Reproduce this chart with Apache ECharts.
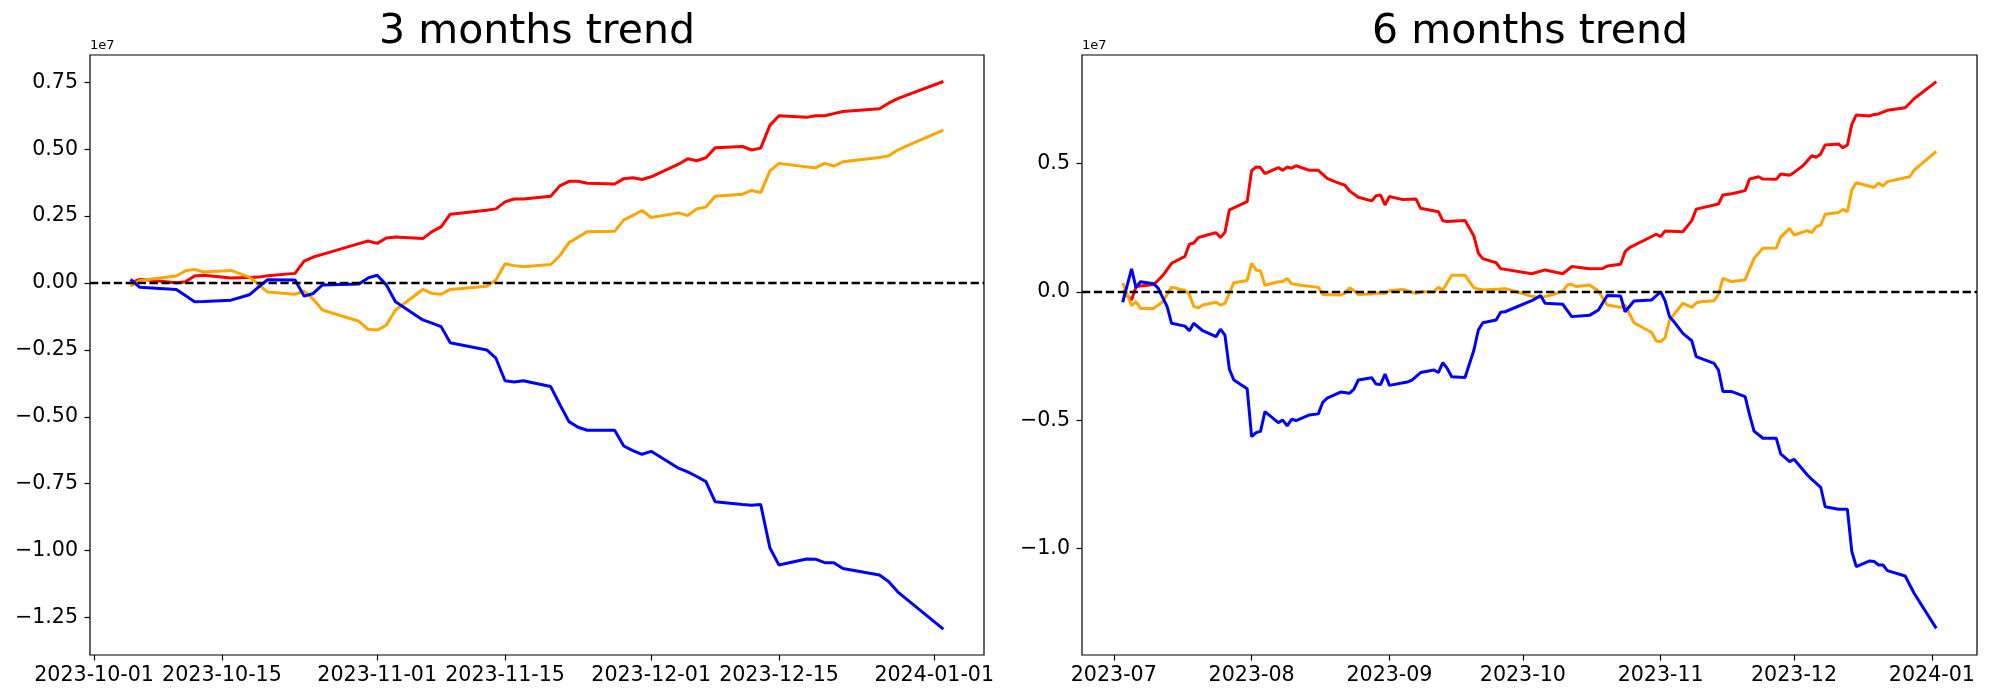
<!DOCTYPE html>
<html>
<head>
<meta charset="utf-8">
<script src="https://cdn.jsdelivr.net/npm/echarts@6/dist/echarts.min.js"></script>
<style>
html,body{margin:0;padding:0;background:#fff;}
#c{width:2000px;height:700px;}
</style>
</head>
<body>
<div id="c"></div>
<script>
// ---------- data (values in millions, days counted from the base date) ----------
const threeBase = '2023-10-01';
const threeDays = [4,5,9,10,11,12,15,17,18,19,22,23,24,25,29,30,31,32,33,36,37,38,39,43,44,45,46,47,50,51,52,53,54,57,58,59,60,61,64,65,66,67,68,71,72,73,74,75,78,79,80,81,82,86,87,88,89,93];
const threeRed = [0.0,0.14,0.01,0.05,0.26,0.29,0.19,0.21,0.22,0.27,0.36,0.82,0.97,1.07,1.47,1.57,1.48,1.68,1.72,1.66,1.92,2.10,2.57,2.72,2.77,3.03,3.14,3.14,3.24,3.63,3.80,3.80,3.73,3.70,3.90,3.93,3.87,3.97,4.44,4.64,4.57,4.68,5.05,5.10,4.97,5.04,5.89,6.25,6.19,6.25,6.25,6.33,6.41,6.51,6.72,6.89,7.02,7.53];
const threeOrange = [-0.12,0.09,0.26,0.46,0.51,0.41,0.47,0.22,-0.05,-0.34,-0.42,-0.30,-0.61,-1.01,-1.43,-1.73,-1.76,-1.58,-1.01,-0.24,-0.39,-0.42,-0.24,-0.12,0.11,0.72,0.65,0.61,0.69,1.02,1.51,1.71,1.92,1.93,2.36,2.53,2.71,2.45,2.62,2.52,2.77,2.84,3.24,3.32,3.46,3.38,4.19,4.47,4.34,4.30,4.47,4.37,4.53,4.69,4.75,4.97,5.12,5.71];
const threeBlue = [0.14,-0.16,-0.24,-0.47,-0.70,-0.69,-0.64,-0.44,-0.15,0.12,0.11,-0.49,-0.39,-0.07,-0.04,0.19,0.29,-0.07,-0.70,-1.38,-1.50,-1.63,-2.23,-2.50,-2.81,-3.65,-3.70,-3.65,-3.87,-4.54,-5.18,-5.39,-5.50,-5.50,-6.09,-6.26,-6.40,-6.29,-6.92,-7.06,-7.23,-7.42,-8.17,-8.28,-8.30,-8.28,-9.89,-10.54,-10.31,-10.32,-10.45,-10.45,-10.67,-10.91,-11.15,-11.54,-11.82,-12.93];

const sixBase = '2023-07-01';
const sixRedDays = [2,4,5,9,11,13,16,17,18,19,21,23,24,25,26,30,31,32,33,34,37,38,39,40,41,44,46,48,50,52,53,55,58,59,60,61,62,65,68,69,73,74,75,79,81,82,83,86,87,94,97,101,103,107,110,111,114,115,116,122,123,124,128,130,131,136,137,139,142,143,145,146,149,150,152,153,155,157,158,159,160,163,164,165,166,167,170,171,172,174,178,180,185];
const sixRed = [0.04,-0.31,0.21,0.29,0.64,1.12,1.39,1.86,1.91,2.12,2.22,2.31,2.12,2.33,3.20,3.52,4.73,4.87,4.85,4.61,4.85,4.74,4.87,4.82,4.92,4.74,4.74,4.43,4.28,4.16,3.94,3.69,3.55,3.75,3.78,3.39,3.72,3.60,3.62,3.26,3.13,2.78,2.75,2.79,2.18,1.51,1.30,1.14,0.91,0.71,0.86,0.71,0.99,0.91,0.92,1.01,1.08,1.57,1.73,2.25,2.16,2.38,2.35,2.78,3.23,3.43,3.78,3.83,3.95,4.40,4.49,4.40,4.39,4.60,4.55,4.66,4.92,5.31,5.25,5.38,5.73,5.77,5.62,5.73,6.53,6.90,6.86,6.92,6.94,7.08,7.18,7.53,8.20];
const sixOrangeDays = [2,4,5,6,9,11,13,16,17,18,19,20,23,24,25,27,30,31,32,33,34,37,38,39,40,42,46,47,51,52,53,54,55,58,59,61,62,65,68,69,72,73,74,76,79,81,83,88,90,94,96,99,101,102,103,104,107,109,111,114,115,117,121,122,123,124,125,128,130,131,132,135,136,137,139,142,144,146,149,150,152,153,156,157,158,159,160,163,164,165,166,167,171,172,173,174,179,180,185];
const sixOrange = [0.35,-0.53,-0.38,-0.64,-0.64,-0.38,0.19,0.06,-0.09,-0.57,-0.62,-0.51,-0.40,-0.51,-0.44,0.36,0.45,1.12,0.86,0.82,0.26,0.40,0.40,0.53,0.32,0.26,0.18,-0.10,-0.12,-0.04,0.16,0.06,-0.10,-0.08,-0.04,-0.06,0.05,0.10,-0.06,0.01,0.01,0.18,0.08,0.65,0.65,0.16,0.08,0.13,0.04,-0.17,-0.22,-0.09,0.04,0.27,0.30,0.21,0.27,0.04,-0.51,-0.60,-0.51,-1.20,-1.58,-1.91,-1.94,-1.78,-1.09,-0.44,-0.60,-0.43,-0.38,-0.34,-0.09,0.53,0.40,0.48,1.31,1.70,1.71,2.14,2.48,2.22,2.39,2.31,2.55,2.61,3.03,3.10,3.22,3.13,3.98,4.26,4.07,4.25,4.13,4.30,4.49,4.75,5.48];
const sixBlueDays = [2,4,5,6,9,10,12,13,16,17,18,20,23,24,25,26,27,30,31,32,33,34,37,38,39,40,41,44,46,47,48,51,53,54,55,58,59,60,61,62,66,67,69,72,73,74,75,76,79,81,82,83,86,87,88,94,96,97,101,103,107,109,111,114,115,117,121,123,124,125,126,128,130,131,135,136,137,139,142,143,144,146,149,150,152,153,156,157,159,160,163,165,166,167,170,171,172,173,174,178,180,185];
const sixBlue = [-0.40,0.90,0.17,0.40,0.32,0.14,-0.57,-1.22,-1.33,-1.51,-1.22,-1.51,-1.74,-1.45,-1.68,-3.01,-3.43,-3.77,-5.64,-5.48,-5.43,-4.66,-5.09,-4.99,-5.22,-4.96,-5.01,-4.79,-4.75,-4.30,-4.14,-3.90,-3.95,-3.79,-3.43,-3.34,-3.59,-3.61,-3.20,-3.64,-3.51,-3.44,-3.14,-3.04,-3.14,-2.75,-2.98,-3.30,-3.33,-2.26,-1.48,-1.20,-1.09,-0.79,-0.77,-0.34,-0.14,-0.44,-0.48,-0.96,-0.91,-0.70,-0.14,-0.16,-0.77,-0.35,-0.31,0.01,-0.35,-0.96,-1.16,-1.61,-1.90,-2.52,-2.78,-3.04,-3.88,-3.88,-4.08,-4.79,-5.42,-5.70,-5.70,-6.31,-6.61,-6.52,-7.13,-7.30,-7.61,-8.37,-8.47,-8.47,-10.12,-10.70,-10.48,-10.50,-10.64,-10.64,-10.86,-11.07,-11.74,-13.11];

const threeXTicks = ['2023-10-01','2023-10-15','2023-11-01','2023-11-15','2023-12-01','2023-12-15','2024-01-01'];
const sixXTicks = ['2023-07','2023-08','2023-09','2023-10','2023-11','2023-12','2024-01'];
const threeYTicks = [-1.25,-1.00,-0.75,-0.50,-0.25,0.00,0.25,0.50,0.75]; // x 1e7
const sixYTicks = [-1.0,-0.5,0.0,0.5]; // x 1e7
const titles = ['3 months trend','6 months trend'];

// ---------- helpers ----------
const DAY = 864e5;
const FONT = 'DejaVu Sans';
function ts(s){ const p = s.split('-').map(Number); return Date.UTC(p[0], p[1]-1, p[2] || 1); }
function pad2(n){ return String(n).padStart(2,'0'); }
function fmtYMD(v){ const d = new Date(v); return d.getUTCFullYear()+'-'+pad2(d.getUTCMonth()+1)+'-'+pad2(d.getUTCDate()); }
function fmtYM(v){ const d = new Date(v); return d.getUTCFullYear()+'-'+pad2(d.getUTCMonth()+1); }
function pts(base, days, vals){ const b = ts(base); return days.map((d,i)=>[b + d*DAY, vals[i]*1e6]); }
function minus(s){ return s.replace('-', '\u2212'); }

function xAxisFor(gi, base, days, ticks, fmt){
  const b = ts(base);
  const first = b + Math.min(...days)*DAY, last = b + Math.max(...days)*DAY;
  const m = (last - first) * 0.05;
  const tv = ticks.map(ts);
  return {
    type:'value', gridIndex:gi, min:first - m, max:last + m, position:'bottom',
    axisLine:{show:false, onZero:false}, splitLine:{show:false},
    axisTick:{show:true, inside:false, length:5.5, lineStyle:{color:'#000', width:1.2}, customValues:tv},
    axisLabel:{customValues:tv, formatter:(v)=>fmt(v), fontSize:20.6, fontFamily:FONT, color:'#000', margin:10}
  };
}
function yAxisFor(gi, min, max, ticks, dec){
  const tv = ticks.map(t=>t*1e7);
  return {
    type:'value', gridIndex:gi, min:min*1e6, max:max*1e6, position:'left',
    axisLine:{show:false, onZero:false}, splitLine:{show:false},
    axisTick:{show:true, inside:false, length:5.5, lineStyle:{color:'#000', width:1.2}, customValues:tv},
    axisLabel:{customValues:tv, formatter:(v)=>minus((v/1e7).toFixed(dec)), fontSize:20.6, fontFamily:FONT, color:'#000', margin:12}
  };
}
function lineSeries(gi, data, color, zeroLine){
  const s = {
    type:'line', xAxisIndex:gi, yAxisIndex:gi, data:data, showSymbol:false, symbol:'none',
    lineStyle:{color:color, width:3}, itemStyle:{color:color}, emphasis:{disabled:true},
    animation:false, silent:true
  };
  if (zeroLine) {
    s.markLine = {silent:true, symbol:['none','none'], label:{show:false}, animation:false,
      lineStyle:{color:'#000', type:[8.3,3.6], width:2.3}, data:[{yAxis:0}]};
  }
  return s;
}

const chart = echarts.init(document.getElementById('c'), null, {renderer:'canvas', width:2000, height:700});
chart.setOption({
  animation:false,
  backgroundColor:'#fff',
  grid:[
    {left:90, top:55, width:894, height:600, show:true, borderColor:'#000', borderWidth:1.2, backgroundColor:'transparent'},
    {left:1082, top:55, width:895, height:600, show:true, borderColor:'#000', borderWidth:1.2, backgroundColor:'transparent'}
  ],
  xAxis:[
    xAxisFor(0, threeBase, threeDays, threeXTicks, fmtYMD),
    xAxisFor(1, sixBase, sixRedDays.concat(sixOrangeDays, sixBlueDays), sixXTicks, fmtYM)
  ],
  yAxis:[
    yAxisFor(0, -13.90, 8.52, threeYTicks, 2),
    yAxisFor(1, -14.147, 9.236, sixYTicks, 1)
  ],
  series:[
    lineSeries(0, pts(threeBase, threeDays, threeRed), '#ff0000', false),
    lineSeries(0, pts(threeBase, threeDays, threeOrange), '#ffa500', false),
    lineSeries(0, pts(threeBase, threeDays, threeBlue), '#0000ff', true),
    lineSeries(1, pts(sixBase, sixRedDays, sixRed), '#ff0000', false),
    lineSeries(1, pts(sixBase, sixOrangeDays, sixOrange), '#ffa500', false),
    lineSeries(1, pts(sixBase, sixBlueDays, sixBlue), '#0000ff', true)
  ],
  graphic:[
    {type:'text', x:537, y:32, silent:true, style:{text:titles[0], font:'41px "DejaVu Sans"', fill:'#000', textAlign:'center', align:'center', textVerticalAlign:'middle', verticalAlign:'middle'}},
    {type:'text', x:1530, y:32, silent:true, style:{text:titles[1], font:'41px "DejaVu Sans"', fill:'#000', textAlign:'center', align:'center', textVerticalAlign:'middle', verticalAlign:'middle'}},
    {type:'text', x:90, y:46, silent:true, style:{text:'1e7', font:'13px "DejaVu Sans"', fill:'#000', textAlign:'left', align:'left', textVerticalAlign:'middle', verticalAlign:'middle'}},
    {type:'text', x:1082, y:46, silent:true, style:{text:'1e7', font:'13px "DejaVu Sans"', fill:'#000', textAlign:'left', align:'left', textVerticalAlign:'middle', verticalAlign:'middle'}}
  ]
});
</script>
</body>
</html>
